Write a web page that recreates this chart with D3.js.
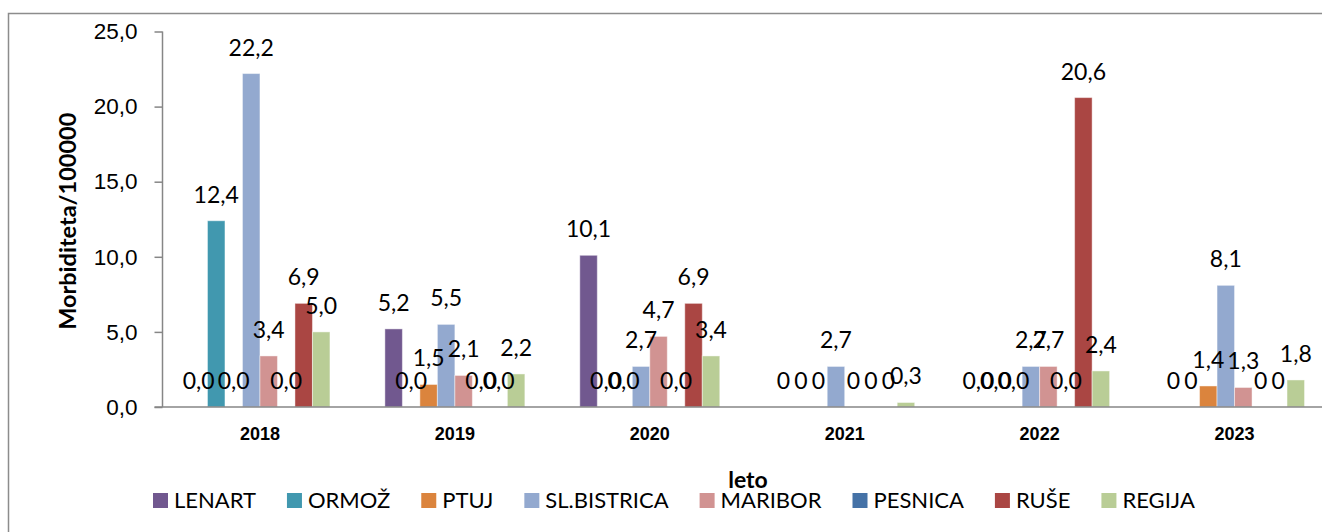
<!DOCTYPE html>
<html>
<head>
<meta charset="utf-8">
<script src="https://cdn.jsdelivr.net/npm/d3@7"></script>
<style>
  body { margin: 0; background: #fff; }
  svg { display: block; font-family: Lato, "Open Sans", sans-serif; }
</style>
</head>
<body>
<svg id="chart" width="1322" height="532"></svg>
<script>
// data
const years = ["2018", "2019", "2020", "2021", "2022", "2023"];
const series = ["LENART", "ORMOŽ", "PTUJ", "SL.BISTRICA", "MARIBOR", "PESNICA", "RUŠE", "REGIJA"];
const colors = ["#71588F", "#4198AF", "#DB843D", "#93A9CF", "#D19392", "#4572A7", "#AA4643", "#B9CD96"];

const lenart     = [0, 5.2, 10.1, 0, 0, 0];
const ormoz      = [12.4, 0, 0, 0, 0, 0];
const ptuj       = [0, 1.5, 0, 0, 0, 1.4];
const slBistrica = [22.2, 5.5, 2.7, 2.7, 2.7, 8.1];
const maribor    = [3.4, 2.1, 4.7, 0, 2.7, 1.3];
const pesnica    = [0, 0, 0, 0, 0, 0];
const ruse       = [6.9, 0, 6.9, 0, 20.6, 0];
const regija     = [5.0, 2.2, 3.4, 0.3, 2.4, 1.8];

const values = [lenart, ormoz, ptuj, slBistrica, maribor, pesnica, ruse, regija];

// years where zero was written as plain "0"
const plainZeroYears = ["2021", "2023"];
const yTicks = [0, 5, 10, 15, 20, 25];

const svg = d3.select("#chart");

const margin = { left: 162.5, right: -10, top: 31.5, bottom: 125 };
const W = 1322, H = 532;

const fmt = v => d3.format(".1f")(v).replace(".", ",");

// outer frame
svg.append("rect")
    .attr("x", 8.5).attr("y", 13.5)
    .attr("width", 1400).attr("height", 600)
    .attr("fill", "none")
    .attr("stroke", "#8c8c8c")
    .attr("stroke-width", 1.5);

const x = d3.scaleBand()
    .domain(years)
    .range([margin.left, W - margin.right]);

const xs = d3.scaleBand()
    .domain(series)
    .range([0, x.bandwidth()])
    .paddingOuter(1.57);

const y = d3.scaleLinear()
    .domain([0, 25])
    .range([H - margin.bottom, margin.top]);

// bars
const rows = [];
years.forEach((yr, i) => {
    series.forEach((s, j) => {
        rows.push({ year: yr, name: s, value: values[j][i], color: colors[j] });
    });
});

const g = svg.append("g");

g.selectAll("rect.bar")
    .data(rows)
    .enter()
    .append("rect")
    .attr("class", "bar")
    .attr("x", d => x(d.year) + xs(d.name))
    .attr("width", xs.bandwidth())
    .attr("y", d => y(d.value))
    .attr("height", d => y(0) - y(d.value))
    .attr("fill", d => d.color)
    .attr("stroke", "rgba(255,255,255,0.45)")
    .attr("stroke-width", 1);

// axes
const yAxis = d3.axisLeft(y)
    .tickValues(yTicks)
    .tickSize(8)
    .tickPadding(17)
    .tickFormat(fmt);

const ya = svg.append("g")
    .attr("transform", `translate(${margin.left},0)`)
    .call(yAxis);

ya.selectAll("path, line").attr("stroke", "#868686").attr("stroke-width", 1.5);
ya.select(".domain").attr("d", `M0,${y(25)}V${y(0)}`);
ya.selectAll("text")
    .attr("font-size", 22.5)
    .attr("fill", "#000");

const xAxis = d3.axisBottom(x).tickSize(0).tickPadding(20);
const xa = svg.append("g")
    .attr("transform", `translate(0,${y(0)})`)
    .call(xAxis);

xa.select(".domain")
    .attr("stroke", "#868686")
    .attr("stroke-width", 1.5)
    .attr("d", `M${margin.left - 8},0H${W + 20}`);
xa.selectAll("text")
    .attr("font-size", 18)
    .attr("font-weight", "bold")
    .attr("fill", "#000");

// data labels
g.selectAll("text.lbl")
    .data(rows)
    .enter()
    .append("text")
    .attr("class", "lbl")
    .attr("x", d => x(d.year) + xs(d.name) + xs.bandwidth() / 2)
    .attr("y", d => y(d.value) - 18)
    .attr("text-anchor", "middle")
    .attr("font-size", 23)
    .attr("fill", "#000")
    .text(d => (d.value === 0 && plainZeroYears.includes(d.year)) ? "0" : fmt(d.value));

// axis titles
svg.append("text")
    .attr("transform", `translate(76,${(y(0) + y(25)) / 2 + 2}) rotate(-90)`)
    .attr("text-anchor", "middle")
    .attr("font-size", 23.5)
    .attr("font-weight", "bold")
    .text("Morbiditeta/100000");

svg.append("text")
    .attr("x", 748)
    .attr("y", 488)
    .attr("text-anchor", "middle")
    .attr("font-size", 23)
    .attr("font-weight", "bold")
    .text("leto");

// legend
const legend = svg.append("g").attr("transform", "translate(153,0)");
let lx = 0;
series.forEach((s, j) => {
    const item = legend.append("g").attr("transform", `translate(${lx},0)`);
    item.append("rect")
        .attr("x", 0).attr("y", 493)
        .attr("width", 15).attr("height", 15)
        .attr("fill", colors[j]);
    const t = item.append("text")
        .attr("x", 21).attr("y", 508)
        .attr("font-size", 22)
        .attr("fill", "#000")
        .text(s);
    lx += 21 + t.node().getComputedTextLength() + 31;
});
</script>
</body>
</html>
